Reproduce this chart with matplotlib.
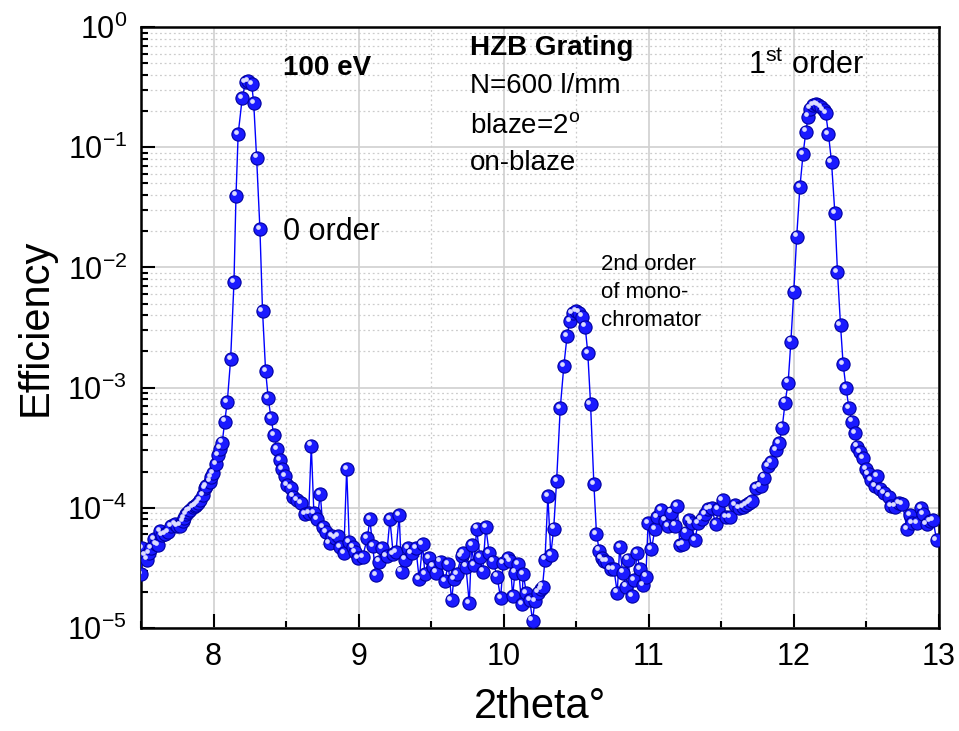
import numpy as np
import matplotlib
matplotlib.use("Agg")
import matplotlib.pyplot as plt
from matplotlib import transforms
from matplotlib.ticker import LogLocator, MultipleLocator, NullFormatter

plt.rcParams['font.family'] = ['Liberation Sans', 'DejaVu Sans']
plt.rcParams['mathtext.fontset'] = 'custom'
plt.rcParams['mathtext.rm'] = 'Liberation Sans'
plt.rcParams['mathtext.it'] = 'Liberation Sans'
plt.rcParams['mathtext.default'] = 'regular'
plt.rcParams['axes.unicode_minus'] = False

# angle scan, 100 eV, HZB grating N=600 l/mm
two_theta = [
    7.50, 7.51, 7.525, 7.54, 7.555, 7.567, 7.59, 7.605, 7.617, 7.63,
    7.645, 7.663, 7.686, 7.709, 7.732, 7.75, 7.767, 7.789, 7.80, 7.812,
    7.825, 7.836, 7.858, 7.87, 7.881, 7.893, 7.905, 7.927, 7.94, 7.95,
    7.973, 7.985, 7.996, 8.019, 8.03, 8.045, 8.06, 8.077, 8.095, 8.118,
    8.141, 8.155, 8.17, 8.198, 8.221, 8.239, 8.263, 8.277, 8.297, 8.32,
    8.338, 8.359, 8.377, 8.396, 8.416, 8.439, 8.46, 8.473, 8.494, 8.508,
    8.535, 8.547, 8.577, 8.605, 8.632, 8.656, 8.674, 8.692, 8.715, 8.736,
    8.754, 8.777, 8.80, 8.82, 8.835, 8.86, 8.871, 8.898, 8.918, 8.936,
    8.959, 8.975, 8.998, 9.028, 9.06, 9.078, 9.097, 9.119, 9.14, 9.159,
    9.193, 9.216, 9.239, 9.258, 9.28, 9.296, 9.319, 9.342, 9.365, 9.395,
    9.418, 9.441, 9.457, 9.487, 9.514, 9.537, 9.565, 9.595, 9.618, 9.641,
    9.657, 9.676, 9.71, 9.721, 9.74, 9.763, 9.779, 9.795, 9.814, 9.836,
    9.855, 9.877, 9.90, 9.928, 9.955, 9.979, 9.997, 10.031, 10.045, 10.062,
    10.078, 10.10, 10.124, 10.135, 10.157, 10.18, 10.199, 10.215, 10.238, 10.255,
    10.268, 10.285, 10.305, 10.325, 10.345, 10.365, 10.39, 10.415, 10.437, 10.456,
    10.475, 10.498, 10.52, 10.539, 10.562, 10.58, 10.599, 10.622, 10.64, 10.659,
    10.675, 10.69, 10.71, 10.737, 10.76, 10.783, 10.80, 10.82, 10.842, 10.858,
    10.882, 10.90, 10.92, 10.938, 10.962, 10.98, 10.996, 11.019, 11.042, 11.058,
    11.082, 11.111, 11.134, 11.157, 11.18, 11.196, 11.215, 11.238, 11.256, 11.279,
    11.295, 11.318, 11.341, 11.364, 11.387, 11.41, 11.433, 11.463, 11.479, 11.509,
    11.536, 11.559, 11.594, 11.623, 11.651, 11.674, 11.69, 11.709, 11.738, 11.771,
    11.793, 11.823, 11.846, 11.876, 11.899, 11.92, 11.94, 11.961, 11.98, 12.0,
    12.02, 12.042, 12.064, 12.083, 12.099, 12.115, 12.133, 12.152, 12.17, 12.189,
    12.205, 12.22, 12.239, 12.26, 12.283, 12.301, 12.322, 12.34, 12.36, 12.381,
    12.402, 12.421, 12.437, 12.455, 12.478, 12.497, 12.515, 12.531, 12.559, 12.574,
    12.593, 12.62, 12.657, 12.673, 12.696, 12.726, 12.749, 12.781, 12.80, 12.818,
    12.85, 12.876, 12.892, 12.915, 12.938, 12.96, 12.984,
]

efficiency = [
    2.8e-5, 4.6e-5, 4.0e-5, 3.7e-5, 4.2e-5, 4.6e-5, 5.5e-5, 5.0e-5, 4.9e-5, 6.4e-5,
    5.9e-5, 6.0e-5, 6.3e-5, 7.0e-5, 7.3e-5, 7.0e-5, 7.1e-5, 7.7e-5, 8.2e-5, 8.8e-5,
    9.3e-5, 9.6e-5, 1.01e-4, 1.03e-4, 1.05e-4, 1.10e-4, 1.16e-4, 1.28e-4, 1.45e-4, 1.52e-4,
    1.65e-4, 1.8e-4, 1.94e-4, 2.31e-4, 2.75e-4, 3.1e-4, 3.48e-4, 5.2e-4, 7.6e-4, 1.72e-3,
    7.5e-3, 0.0395, 0.129, 0.257, 0.349, 0.356, 0.336, 0.234, 0.082, 0.0208,
    4.34e-3, 1.38e-3, 8.2e-4, 5.6e-4, 4.03e-4, 3.06e-4, 2.5e-4, 2.09e-4, 1.84e-4, 1.55e-4,
    1.45e-4, 1.24e-4, 1.16e-4, 1.10e-4, 8.9e-5, 9.0e-5, 3.29e-4, 9.0e-5, 8.0e-5, 1.30e-4,
    6.9e-5, 6.3e-5, 5.1e-5, 5.8e-5, 5.6e-5, 5.8e-5, 4.7e-5, 4.2e-5, 2.09e-4, 5.2e-5,
    4.7e-5, 4.3e-5, 3.8e-5, 3.9e-5, 5.6e-5, 8.0e-5, 4.8e-5, 2.76e-5, 3.56e-5, 4.6e-5,
    3.97e-5, 8.0e-5, 4.1e-5, 4.3e-5, 8.7e-5, 2.94e-5, 3.7e-5, 4.6e-5, 4.2e-5, 4.6e-5,
    2.54e-5, 5.0e-5, 2.81e-5, 3.8e-5, 3.24e-5, 2.88e-5, 3.56e-5, 2.47e-5, 3.4e-5, 1.71e-5,
    2.54e-5, 2.81e-5, 3.97e-5, 4.18e-5, 3.24e-5, 1.6e-5, 4.9e-5, 3.34e-5, 6.7e-5, 3.87e-5,
    2.94e-5, 6.9e-5, 4.2e-5, 3.56e-5, 2.67e-5, 1.77e-5, 3.45e-5, 3.8e-5, 3.6e-5, 1.85e-5,
    2.88e-5, 3.4e-5, 1.58e-5, 2.81e-5, 1.94e-5, 1.71e-5, 1.15e-5, 1.66e-5, 1.97e-5, 2.1e-5,
    2.21e-5, 3.7e-5, 1.25e-4, 4.05e-5, 6.7e-5, 1.67e-4, 6.7e-4, 1.52e-3, 2.67e-3, 3.58e-3,
    4.15e-3, 4.34e-3, 4.2e-3, 3.89e-3, 3.21e-3, 1.94e-3, 7.3e-4, 1.57e-4, 6.05e-5, 4.4e-5,
    3.8e-5, 3.6e-5, 3.56e-5, 3.08e-5, 3.08e-5, 1.97e-5, 4.7e-5, 2.88e-5, 2.21e-5, 3.7e-5,
    1.85e-5, 2.5e-5, 4.18e-5, 3.08e-5, 2.28e-5, 2.67e-5, 7.5e-5, 4.5e-5, 6.6e-5, 8.4e-5,
    9.5e-5, 7.8e-5, 7.0e-5, 9.1e-5, 7.1e-5, 1.03e-4, 4.9e-5, 5.0e-5, 6.2e-5, 7.9e-5,
    7.4e-5, 5.4e-5, 7.5e-5, 8.0e-5, 8.9e-5, 9.7e-5, 9.9e-5, 7.3e-5, 9.7e-5, 1.16e-4,
    8.4e-5, 8.4e-5, 1.05e-4, 9.9e-5, 1.01e-4, 1.05e-4, 1.10e-4, 1.13e-4, 1.45e-4, 1.52e-4,
    1.78e-4, 2.23e-4, 2.38e-4, 3.03e-4, 3.44e-4, 4.64e-4, 7.5e-4, 1.1e-3, 2.41e-3, 6.3e-3,
    0.018, 0.0464, 0.0877, 0.1346, 0.1795, 0.21, 0.224, 0.229, 0.224, 0.215,
    0.205, 0.191, 0.129, 0.0753, 0.0285, 9.2e-3, 3.32e-3, 1.57e-3, 9.9e-4, 6.7e-4,
    5.2e-4, 4.2e-4, 3.22e-4, 2.9e-4, 2.58e-4, 2.09e-4, 1.9e-4, 1.69e-4, 1.52e-4, 1.82e-4,
    1.43e-4, 1.32e-4, 1.24e-4, 1.03e-4, 1.02e-4, 1.10e-4, 1.08e-4, 6.6e-5, 8.7e-5, 7.5e-5,
    7.4e-5, 9.9e-5, 8.9e-5, 7.3e-5, 7.7e-5, 7.9e-5, 5.4e-5,
]

fig = plt.figure(figsize=(9.59, 7.31), dpi=100)
ax = fig.add_axes([0.147, 0.141, 0.832, 0.822])

# line + ball symbols
ax.plot(two_theta, efficiency, '-', color='#0000ff', lw=1.0, zorder=3)
ax.plot(two_theta, efficiency, 'o', ms=9.5, mfc='#1a1aff', mec='#0000a0',
        mew=0.8, zorder=4)
shine = transforms.offset_copy(ax.transData, fig=fig, x=-1.5, y=1.6, units='points')
ax.plot(two_theta, efficiency, 'o', ms=3.4, mfc='#dcdcff', mec='none',
        transform=shine, zorder=5)

ax.set_yscale('log')
ax.set_xlim(7.5, 13)
ax.set_ylim(1e-5, 1)
ax.xaxis.set_major_locator(MultipleLocator(1))
ax.xaxis.set_minor_locator(MultipleLocator(0.5))
ax.yaxis.set_major_locator(LogLocator(base=10, numticks=10))
ax.yaxis.set_minor_locator(LogLocator(base=10, subs=np.arange(2, 10), numticks=20))
ax.yaxis.set_minor_formatter(NullFormatter())

ax.grid(True, which='major', color='#d0d0d0', lw=1.2, ls='-', zorder=0)
ax.grid(True, which='minor', color='#cccccc', lw=0.9, ls=(0, (1.5, 2.2)), zorder=0)
ax.set_axisbelow(True)

for s in ax.spines.values():
    s.set_linewidth(1.8)
ax.tick_params(which='both', direction='in', top=False, right=False, width=1.5)
ax.tick_params(which='major', length=10, labelsize=22, pad=10)
ax.tick_params(which='minor', length=5)

ax.set_xlabel('2theta°', fontsize=30, labelpad=11)
ax.set_ylabel('Efficiency', fontsize=30, labelpad=8)

ax.text(8.479, 0.456, '100 eV', fontsize=20, fontweight='bold', va='center')
ax.text(9.767, 0.669, 'HZB Grating', fontsize=20, fontweight='bold', va='center')
ax.text(9.767, 0.323, 'N=600 l/mm', fontsize=20, va='center')
ax.text(9.767, 0.15, 'blaze=2$^o$', fontsize=20, va='center')
ax.text(9.767, 0.074, 'on-blaze', fontsize=20, va='center')
ax.text(8.479, 0.0197, '0 order', fontsize=22, va='center')
ax.text(11.683, 0.474, '1$^{st}$ order', fontsize=22, va='center')
ax.text(10.67, 6.2e-3, '2nd order\nof mono-\nchromator', fontsize=16,
        va='center', linespacing=1.45)

fig.savefig('out.png', dpi=100)
